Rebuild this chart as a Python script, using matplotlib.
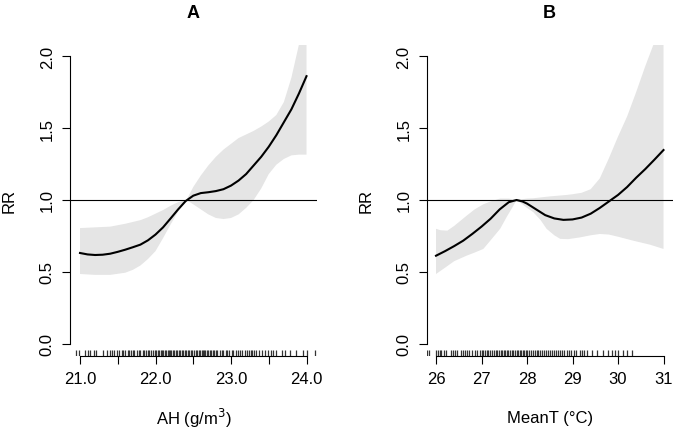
import numpy as np
import matplotlib.pyplot as plt
from matplotlib.transforms import blended_transform_factory

plt.rcParams['font.family'] = ['Liberation Sans', 'DejaVu Sans']

# ---- Panel A: absolute humidity ----
ah_x = [21.0, 21.1, 21.2, 21.3, 21.4, 21.5, 21.6, 21.7, 21.8, 21.9, 22.0, 22.1,
        22.2, 22.3, 22.4, 22.5, 22.6, 22.7, 22.8, 22.9, 23.0, 23.1, 23.2, 23.3,
        23.4, 23.5, 23.6, 23.7, 23.8, 23.9, 24.0]
ah_rr = [0.632, 0.622, 0.618, 0.620, 0.627, 0.640, 0.655, 0.672, 0.690, 0.720,
         0.760, 0.810, 0.872, 0.935, 0.993, 1.030, 1.048, 1.054, 1.062, 1.075,
         1.100, 1.135, 1.180, 1.240, 1.300, 1.370, 1.450, 1.540, 1.630, 1.740,
         1.860]
ah_up_x = [21.0, 21.2, 21.4, 21.6, 21.8, 21.9, 22.0, 22.1, 22.2, 22.3, 22.41,
           22.5, 22.6, 22.7, 22.8, 22.9, 23.0, 23.1, 23.2, 23.3, 23.4, 23.5,
           23.6, 23.7, 23.8, 23.9, 24.0]
ah_up = [0.805, 0.810, 0.815, 0.835, 0.860, 0.880, 0.905, 0.930, 0.960, 0.985,
         1.000, 1.090, 1.170, 1.240, 1.300, 1.350, 1.390, 1.430, 1.455, 1.480,
         1.510, 1.545, 1.590, 1.680, 1.850, 2.080, 2.400]
ah_lo_x = [21.0, 21.2, 21.4, 21.6, 21.7, 21.8, 21.9, 22.0, 22.1, 22.2, 22.3,
           22.41, 22.5, 22.6, 22.7, 22.8, 22.9, 23.0, 23.1, 23.2, 23.3, 23.4,
           23.5, 23.6, 23.7, 23.8, 23.9, 24.0]
ah_lo = [0.486, 0.480, 0.480, 0.495, 0.515, 0.545, 0.590, 0.645, 0.735, 0.830,
         0.920, 1.000, 0.970, 0.935, 0.900, 0.875, 0.868, 0.875, 0.900, 0.945,
         1.000, 1.080, 1.180, 1.245, 1.285, 1.310, 1.315, 1.315]
ah_rug = [20.95, 20.99, 21.06, 21.10, 21.13, 21.18, 21.21, 21.31, 21.36, 21.40,
          21.43, 21.45, 21.49, 21.52, 21.55, 21.57, 21.60, 21.63, 21.65, 21.68,
          21.70, 21.72, 21.75, 21.78, 21.80, 21.83, 21.85, 21.87, 21.90, 21.92,
          21.94, 21.97, 21.99, 22.01, 22.03, 22.05, 22.07, 22.08, 22.10, 22.12,
          22.14, 22.16, 22.18, 22.19, 22.21, 22.23, 22.25, 22.27, 22.29, 22.31,
          22.33, 22.35, 22.37, 22.39, 22.41, 22.43, 22.45, 22.47, 22.49, 22.51,
          22.53, 22.55, 22.57, 22.59, 22.61, 22.63, 22.64, 22.66, 22.68, 22.70,
          22.72, 22.74, 22.76, 22.78, 22.80, 22.82, 22.85, 22.88, 22.90, 22.93,
          22.95, 22.98, 23.01, 23.03, 23.06, 23.09, 23.12, 23.15, 23.18, 23.21,
          23.24, 23.26, 23.28, 23.30, 23.33, 23.37, 23.41, 23.45, 23.49, 23.53,
          23.56, 23.60, 23.67, 23.71, 23.78, 23.86, 23.96, 24.00, 24.11]

# ---- Panel B: mean temperature ----
mt_x = [26.0, 26.2, 26.4, 26.6, 26.8, 27.0, 27.2, 27.4, 27.6, 27.77, 27.9, 28.0,
        28.1, 28.2, 28.4, 28.6, 28.8, 29.0, 29.2, 29.4, 29.6, 29.8, 30.0, 30.2,
        30.4, 30.6, 30.8, 31.0]
mt_rr = [0.613, 0.645, 0.680, 0.718, 0.765, 0.815, 0.870, 0.935, 0.985, 1.000,
         0.990, 0.975, 0.955, 0.935, 0.895, 0.872, 0.862, 0.865, 0.878, 0.905,
         0.945, 0.990, 1.035, 1.090, 1.155, 1.215, 1.280, 1.347]
mt_up_x = [26.0, 26.1, 26.25, 26.4, 26.67, 26.85, 27.04, 27.2, 27.41, 27.6,
           27.77, 28.0, 28.14, 28.5, 28.87, 29.0, 29.2, 29.4, 29.6, 29.8, 30.0,
           30.2, 30.4, 30.6, 30.78, 31.0]
mt_up = [0.800, 0.790, 0.787, 0.820, 0.890, 0.935, 0.970, 0.990, 1.010, 1.010,
         1.000, 1.010, 1.012, 1.025, 1.035, 1.040, 1.050, 1.075, 1.150, 1.290,
         1.440, 1.580, 1.750, 1.930, 2.080, 2.350]
mt_lo_x = [26.0, 26.2, 26.4, 26.67, 26.85, 27.04, 27.2, 27.41, 27.55, 27.7,
           27.77, 27.9, 28.0, 28.14, 28.3, 28.43, 28.6, 28.73, 28.9, 29.16,
           29.4, 29.6, 29.8, 30.0, 30.34, 30.7, 31.0]
mt_lo = [0.486, 0.530, 0.575, 0.613, 0.635, 0.660, 0.720, 0.800, 0.880, 0.960,
         1.000, 0.970, 0.945, 0.915, 0.860, 0.800, 0.755, 0.730, 0.728, 0.740,
         0.755, 0.764, 0.760, 0.745, 0.717, 0.690, 0.660]
mt_rug = [25.81, 25.85, 26.00, 26.04, 26.08, 26.12, 26.17, 26.22, 26.33, 26.37,
          26.42, 26.46, 26.55, 26.59, 26.63, 26.68, 26.72, 26.80, 26.85, 26.90,
          26.96, 27.00, 27.04, 27.08, 27.12, 27.15, 27.19, 27.23, 27.27, 27.31,
          27.35, 27.38, 27.42, 27.45, 27.49, 27.52, 27.56, 27.59, 27.63, 27.66,
          27.70, 27.73, 27.77, 27.80, 27.84, 27.87, 27.91, 27.94, 27.98, 28.01,
          28.05, 28.09, 28.13, 28.17, 28.21, 28.25, 28.29, 28.33, 28.37, 28.41,
          28.46, 28.50, 28.54, 28.59, 28.63, 28.68, 28.72, 28.77, 28.82, 28.87,
          28.92, 28.97, 29.03, 29.08, 29.16, 29.21, 29.26, 29.31, 29.42, 29.53,
          29.68, 29.79, 29.86, 29.93, 30.01, 30.12, 30.19, 30.30]

y_ticks = [0.0, 0.5, 1.0, 1.5, 2.0]
y_labels = ['0.0', '0.5', '1.0', '1.5', '2.0']

W, H = 676, 431
fig = plt.figure(figsize=(W / 100, H / 100), dpi=100)


def panel(rect, title, xlabel, x, rr, ux, up, lx, lo, rug, xlim, xticks, xlabels):
    ax = fig.add_axes(rect)
    ax.fill(np.concatenate([ux, lx[::-1]]), np.concatenate([up, lo[::-1]]),
            color='#e5e5e5', lw=0)
    ax.axhline(1.0, color='black', lw=0.8)
    ax.plot(x, rr, color='black', lw=1.5)
    trans = blended_transform_factory(ax.transData, ax.transAxes)
    ax.vlines(rug, 0, 0.019, transform=trans, color='#333333', lw=0.9)

    ax.set_xlim(*xlim)
    ax.set_ylim(-0.08, 2.08)
    for s in ['top', 'right']:
        ax.spines[s].set_visible(False)
    ax.spines['left'].set_bounds(0, 2)
    ax.spines['bottom'].set_bounds(xticks[0], xticks[-1])
    for s in ['left', 'bottom']:
        ax.spines[s].set_linewidth(0.8)
    ax.tick_params(length=6, width=0.8, labelsize=12)
    ax.tick_params(axis='x', pad=5)
    ax.tick_params(axis='y', pad=5)
    ax.set_xticks(xticks)
    ax.set_xticklabels(xlabels)
    ax.set_yticks(y_ticks)
    ax.set_yticklabels(y_labels, rotation=90, va='center')

    ax.set_title(title, fontweight='bold', fontsize=13, pad=20)
    ax.set_xlabel(xlabel, fontsize=12)
    ax.xaxis.set_label_coords(0.5, -0.198)
    ax.xaxis.label.set_va('center')
    ax.set_ylabel('RR', fontsize=12)
    ax.yaxis.set_label_coords(-0.247, 0.5)
    ax.yaxis.label.set_va('center')
    return ax


top, bottom = 45.5, 356.5
rect_a = [70 / W, 1 - bottom / H, 247 / W, (bottom - top) / H]
rect_b = [426.9 / W, 1 - bottom / H, 245.7 / W, (bottom - top) / H]

panel(rect_a, 'A', 'AH (g/m$^3$)', ah_x, ah_rr, np.array(ah_up_x), ah_up,
      np.array(ah_lo_x), np.array(ah_lo), ah_rug, (20.8675, 24.139),
      [21.0, 21.5, 22.0, 22.5, 23.0, 23.5, 24.0],
      ['21.0', '', '22.0', '', '23.0', '', '24.0'])
panel(rect_b, 'B', 'MeanT (°C)', mt_x, mt_rr, np.array(mt_up_x), mt_up,
      np.array(mt_lo_x), np.array(mt_lo), mt_rug, (25.8, 31.2),
      [26, 27, 28, 29, 30, 31], ['26', '27', '28', '29', '30', '31'])

fig.savefig('out.png', dpi=100)
